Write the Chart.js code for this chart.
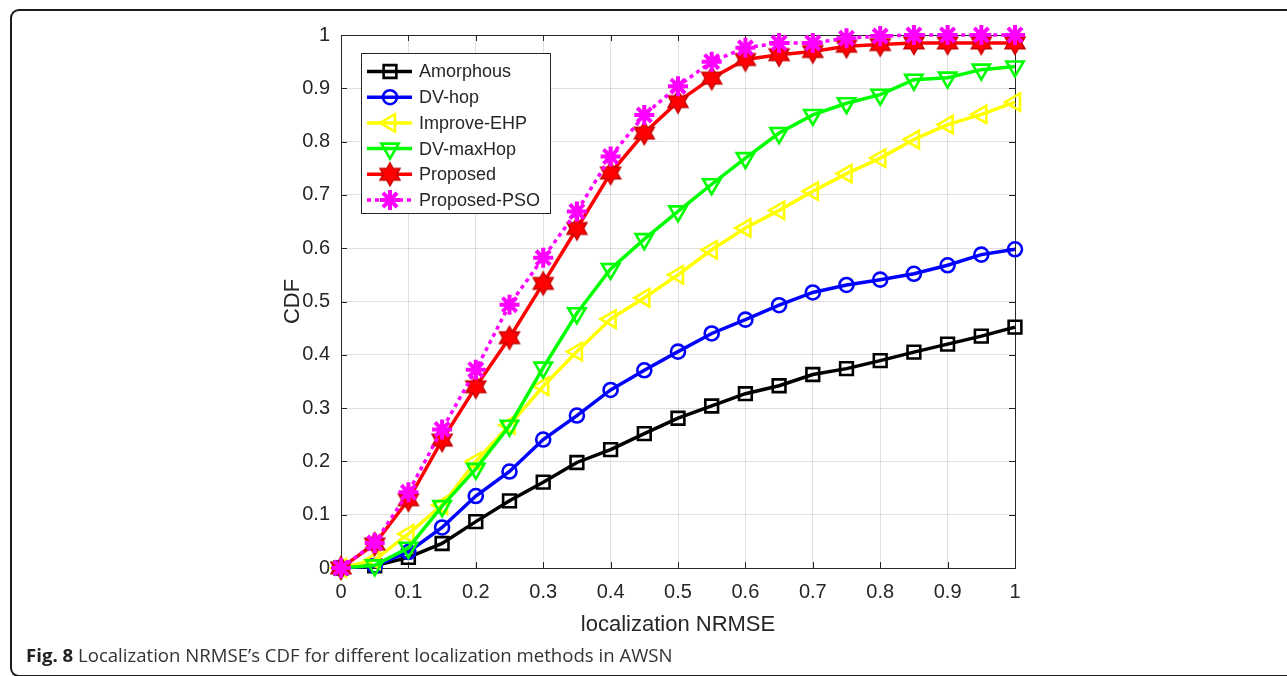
<!DOCTYPE html>
<html>
<head>
<meta charset="utf-8">
<script src="https://cdn.jsdelivr.net/npm/chart.js@4/dist/chart.umd.min.js"></script>
<style>
  html, body { margin: 0; padding: 0; background: #fff; overflow: hidden; }
  #wrap { position: relative; width: 1287px; height: 676px; overflow: hidden; }
  #grafico { position: absolute; left: 0; top: 0; }
  #moldura {
    position: absolute; left: 10px; top: 9px; width: 1400px; height: 664px;
    border: 2px solid #1c1c1c; border-right: none; border-radius: 9px 0 0 9px;
  }
  #legenda-fig {
    position: absolute; left: 26px; top: 642px;
    font-family: "Open Sans", sans-serif; font-size: 18.6px; color: #333;
    white-space: nowrap;
  }
  #legenda-fig b { color: #222; }
</style>
</head>
<body>
<div id="wrap">
  <div id="moldura"></div>
  <canvas id="grafico" width="1287" height="676"></canvas>
  <div id="legenda-fig"><b>Fig. 8</b> Localization NRMSE’s CDF for different localization methods in AWSN</div>
</div>

<script>
// ===== 1. Dados =====
const nrmse = [0, 0.05, 0.1, 0.15, 0.2, 0.25, 0.3, 0.35, 0.4, 0.45, 0.5,
               0.55, 0.6, 0.65, 0.7, 0.75, 0.8, 0.85, 0.9, 0.95, 1];

const amorphous = [0, 0.004, 0.02, 0.046, 0.087, 0.126, 0.161, 0.198, 0.222, 0.252, 0.281,
                   0.304, 0.327, 0.342, 0.363, 0.374, 0.389, 0.405, 0.42, 0.435, 0.452];
const dvHop = [0, 0.004, 0.03, 0.076, 0.135, 0.181, 0.241, 0.286, 0.334, 0.371, 0.406,
               0.44, 0.466, 0.493, 0.517, 0.531, 0.541, 0.552, 0.568, 0.588, 0.598];
const improveEhp = [0, 0.015, 0.064, 0.118, 0.2, 0.268, 0.341, 0.406, 0.467, 0.507, 0.55,
                    0.597, 0.638, 0.671, 0.707, 0.74, 0.769, 0.804, 0.832, 0.851, 0.874];
const dvMaxHop = [0, 0.005, 0.038, 0.116, 0.186, 0.267, 0.376, 0.478, 0.561, 0.617, 0.669,
                  0.72, 0.769, 0.816, 0.85, 0.872, 0.888, 0.916, 0.92, 0.935, 0.941];
const proposed = [0, 0.045, 0.128, 0.24, 0.34, 0.432, 0.534, 0.637, 0.741, 0.816, 0.875,
                  0.919, 0.954, 0.963, 0.969, 0.979, 0.982, 0.985, 0.985, 0.985, 0.985];
const proposedPso = [0, 0.047, 0.142, 0.26, 0.372, 0.494, 0.582, 0.669, 0.772, 0.85, 0.904,
                     0.95, 0.976, 0.985, 0.985, 0.994, 0.998, 1, 1, 1, 1];

const nomes = ['Amorphous', 'DV-hop', 'Improve-EHP', 'DV-maxHop', 'Proposed', 'Proposed-PSO'];
const xTicks = ['0', '0.1', '0.2', '0.3', '0.4', '0.5', '0.6', '0.7', '0.8', '0.9', '1'];
const yTicks = ['0', '0.1', '0.2', '0.3', '0.4', '0.5', '0.6', '0.7', '0.8', '0.9', '1'];


// ===== 2. Marcador hexagrama (estrela de 6 pontas) =====
function hexagrama(cor) {
  const c = document.createElement('canvas');
  c.width = 28; c.height = 28;
  const g = c.getContext('2d');
  g.beginPath();
  for (let i = 0; i < 12; i++) {
    const r = i % 2 === 0 ? 11.5 : 6.6;
    const a = -Math.PI / 2 + i * Math.PI / 6;
    const px = 14 + r * Math.cos(a), py = 14 + r * Math.sin(a);
    if (i === 0) g.moveTo(px, py); else g.lineTo(px, py);
  }
  g.closePath();
  g.fillStyle = cor;
  g.fill();
  g.lineWidth = 1.5;
  g.strokeStyle = '#c80000';
  g.stroke();
  return c;
}

const pontos = valores => nrmse.map((x, i) => ({ x: x, y: valores[i] }));

const series = [
  { label: nomes[0], data: pontos(amorphous), borderColor: '#000000', pointStyle: 'rect', pointRadius: 9, pointRotation: 0, order: 6 },
  { label: nomes[1], data: pontos(dvHop), borderColor: '#0000ff', pointStyle: 'circle', pointRadius: 7, pointRotation: 0, order: 5 },
  { label: nomes[2], data: pontos(improveEhp), borderColor: '#ffff00', pointStyle: 'triangle', pointRadius: 10, pointRotation: -90, order: 4 },
  { label: nomes[3], data: pontos(dvMaxHop), borderColor: '#00ff00', pointStyle: 'triangle', pointRadius: 10, pointRotation: 180, order: 3 },
  { label: nomes[4], data: pontos(proposed), borderColor: '#ff0000', pointStyle: hexagrama('#ff0000'), pointRadius: 11, pointRotation: 0, order: 2 },
  { label: nomes[5], data: pontos(proposedPso), borderColor: '#ff00ff', pointStyle: 'star', pointRadius: 10, pointRotation: 0, order: 1, borderDash: [4, 4] }
].map(s => ({
  ...s,
  borderWidth: 3.5,
  pointBorderColor: s.borderColor,
  pointBackgroundColor: 'rgba(0,0,0,0)',
  pointBorderWidth: s.pointStyle === 'star' ? 4 : 2.6,
  tension: 0,
  clip: false
}));


// ===== 3. Plugin: caixa dos eixos, ticks internos e legenda =====
const corEixo = '#262626';

const caixaMatlab = {
  id: 'caixaMatlab',
  beforeDatasetsDraw(chart) {
    const { ctx, chartArea: a, scales } = chart;
    ctx.save();
    ctx.strokeStyle = corEixo;
    ctx.lineWidth = 1;
    ctx.strokeRect(a.left + 0.5, a.top + 0.5, a.right - a.left, a.bottom - a.top);
    ctx.beginPath();
    scales.x.ticks.forEach(t => {
      const px = Math.round(scales.x.getPixelForValue(t.value)) + 0.5;
      ctx.moveTo(px, a.bottom); ctx.lineTo(px, a.bottom - 6);
      ctx.moveTo(px, a.top); ctx.lineTo(px, a.top + 6);
    });
    scales.y.ticks.forEach(t => {
      const py = Math.round(scales.y.getPixelForValue(t.value)) + 0.5;
      ctx.moveTo(a.left, py); ctx.lineTo(a.left + 6, py);
      ctx.moveTo(a.right, py); ctx.lineTo(a.right - 6, py);
    });
    ctx.stroke();
    ctx.restore();
  },
  afterDraw(chart) {
    const { ctx, chartArea: a } = chart;
    const bx = a.left + 20, by = a.top + 18, bw = 189, bh = 160;
    ctx.save();
    ctx.fillStyle = '#ffffff';
    ctx.fillRect(bx, by, bw, bh);
    ctx.strokeStyle = corEixo;
    ctx.lineWidth = 1;
    ctx.strokeRect(bx + 0.5, by + 0.5, bw, bh);

    chart.data.datasets.forEach((ds, i) => {
      const y = by + 18.5 + i * 25.7;
      ctx.save();
      ctx.strokeStyle = ds.borderColor;
      ctx.lineWidth = ds.borderWidth;
      ctx.setLineDash(ds.borderDash || []);
      ctx.beginPath();
      ctx.moveTo(bx + 6, y);
      ctx.lineTo(bx + 51, y);
      ctx.stroke();
      ctx.setLineDash([]);
      ctx.strokeStyle = ds.pointBorderColor;
      ctx.fillStyle = ds.pointBackgroundColor;
      ctx.lineWidth = ds.pointBorderWidth;
      Chart.helpers.drawPoint(ctx, {
        pointStyle: ds.pointStyle,
        rotation: ds.pointRotation,
        radius: ds.pointRadius,
        borderWidth: ds.pointBorderWidth
      }, bx + 29, y);
      ctx.restore();

      ctx.fillStyle = corEixo;
      ctx.font = '18px "Liberation Sans", Arial, sans-serif';
      ctx.textBaseline = 'middle';
      ctx.textAlign = 'left';
      ctx.fillText(ds.label, bx + 58, y + 1);
    });
    ctx.restore();
  }
};


// ===== 4. Gráfico =====
const fonteEixo = { family: '"Liberation Sans", Arial, sans-serif', size: 20 };
const fonteTitulo = { family: '"Liberation Sans", Arial, sans-serif', size: 22 };

new Chart(document.getElementById('grafico'), {
  type: 'line',
  data: { datasets: series },
  plugins: [caixaMatlab],
  options: {
    responsive: false,
    animation: false,
    devicePixelRatio: 1,
    layout: { padding: { left: 270, right: 272, top: 35, bottom: 0 } },
    plugins: {
      legend: { display: false },
      tooltip: { enabled: false }
    },
    scales: {
      x: {
        type: 'linear',
        min: 0, max: 1,
        afterFit: s => { s.height = 108; },
        ticks: {
          stepSize: 0.1,
          color: corEixo,
          font: fonteEixo,
          padding: 12,
          maxRotation: 0,
          callback: (v, i) => xTicks[i]
        },
        grid: { color: 'rgba(0,0,0,0.12)', drawTicks: false },
        border: { color: corEixo },
        title: {
          display: true,
          text: 'localization NRMSE',
          color: corEixo,
          font: fonteTitulo,
          padding: { top: 0, bottom: 38 }
        }
      },
      y: {
        type: 'linear',
        min: 0, max: 1,
        afterFit: s => { s.width = 71; },
        ticks: {
          stepSize: 0.1,
          color: corEixo,
          font: fonteEixo,
          padding: 11,
          callback: (v, i) => yTicks[i]
        },
        grid: { color: 'rgba(0,0,0,0.12)', drawTicks: false },
        border: { color: corEixo },
        title: {
          display: true,
          text: 'CDF',
          color: corEixo,
          font: fonteTitulo,
          padding: { top: 10, bottom: 0 }
        }
      }
    }
  }
});
</script>
</body>
</html>
